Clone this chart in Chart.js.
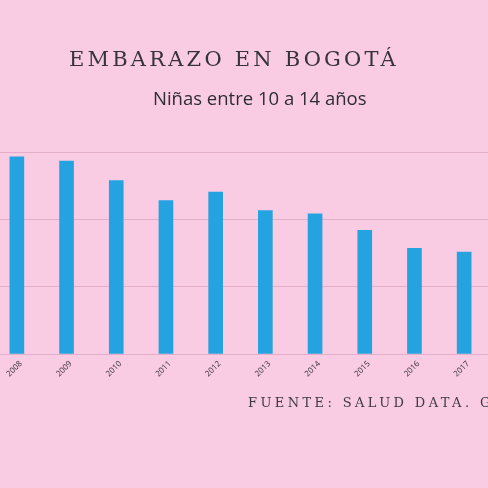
<!DOCTYPE html>
<html>
<head>
<meta charset="utf-8">
<script src="https://cdn.jsdelivr.net/npm/chart.js@4"></script>
<style>
  html, body { margin: 0; padding: 0; }
  body { width: 488px; height: 488px; overflow: hidden; background: #f9cce3; position: relative; }
  #wrap { position: absolute; left: -8px; top: 0; width: 497px; height: 488px; }
  .title { position: absolute; left: 69px; top: 47px; font-family: "DejaVu Serif", "Bitstream Vera Serif", serif; font-size: 21px;
           letter-spacing: 3.2px; color: #35333d; white-space: nowrap; }
  .sub { position: absolute; left: 153px; top: 85px; font-family: "Open Sans", sans-serif; font-size: 18.5px;
         color: #2e2c33; white-space: nowrap; }
  .foot { position: absolute; left: 248px; top: 395px; font-family: "DejaVu Serif", "Bitstream Vera Serif", serif; font-size: 13px;
          letter-spacing: 3.4px; color: #3d3a44; white-space: nowrap; }
</style>
</head>
<body>
<div id="wrap"><canvas id="myChart"></canvas></div>
<div class="title">EMBARAZO EN BOGOTÁ</div>
<div class="sub">Niñas entre 10 a 14 años</div>
<div class="foot">FUENTE: SALUD DATA. GOV.CO</div>
<script>
var years = ["2008", "2009", "2010", "2011", "2012", "2013", "2014", "2015", "2016", "2017"];
var embarazos = [586, 573, 515, 456, 481, 426, 416, 367, 314, 303];
var yTicks = [0, 200, 400, 600];

document.addEventListener("DOMContentLoaded", function(){
    var ctx = document.getElementById('myChart').getContext('2d');
    var chart = new Chart(ctx, {
        type: 'bar',
        data: {
            labels: years,
            datasets: [{
                label: 'Niñas entre 10 a 14 años',
                backgroundColor: '#25a3e1',
                borderWidth: 0,
                barThickness: 14,
                data: embarazos
            }]
        },
        options: {
            responsive: true,
            maintainAspectRatio: false,
            animation: false,
            layout: { padding: { top: 152, bottom: 110, left: 0, right: 0 } },
            plugins: {
                legend: { display: false },
                tooltip: { enabled: false }
            },
            scales: {
                x: {
                    grid: { display: false },
                    border: { display: false },
                    ticks: {
                        color: '#35313b',
                        font: { family: 'Open Sans', size: 8 },
                        minRotation: 45,
                        maxRotation: 45,
                        padding: -3,
                        labelOffset: 4
                    },
                    afterFit: function(scale){ scale.height = 24; }
                },
                y: {
                    min: yTicks[0],
                    max: yTicks[yTicks.length - 1],
                    afterBuildTicks: function(scale){
                        scale.ticks = yTicks.map(function(v){ return { value: v }; });
                    },
                    grid: { color: '#e3aec7', lineWidth: 1, drawTicks: false },
                    border: { display: false },
                    ticks: { display: false },
                    afterFit: function(scale){ scale.width = 0; }
                }
            }
        }
    });
});
</script>
</body>
</html>
